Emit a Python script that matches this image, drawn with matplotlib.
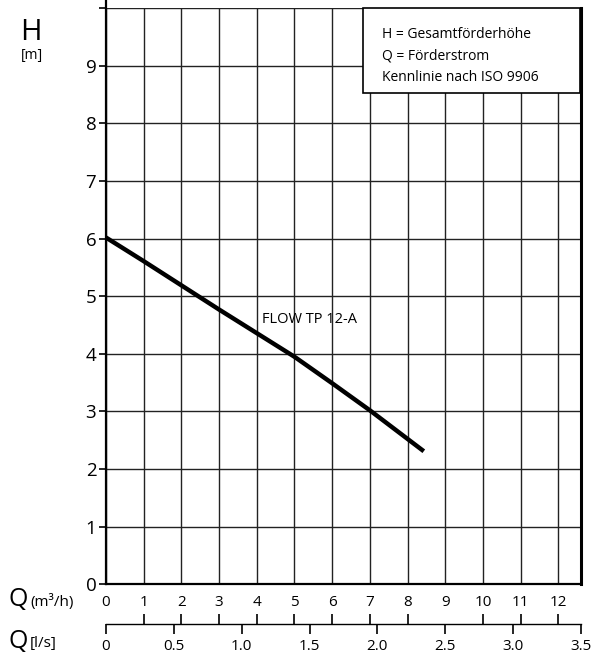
import matplotlib.pyplot as plt
from matplotlib.patches import Rectangle

plt.rcParams['font.family'] = ['Open Sans', 'DejaVu Sans']

# pump curve FLOW TP 12-A, Q in m3/h, H in m
q_m3h = [0, 1, 2, 3, 4, 5, 6, 7, 8.43]
h_m = [6.02, 5.61, 5.19, 4.77, 4.36, 3.95, 3.49, 3.02, 2.31]

q_ticks = list(range(0, 13))
h_ticks = list(range(0, 11))
h_labels = [str(v) for v in range(0, 10)] + [""]
ls_ticks = [0, 0.5, 1.0, 1.5, 2.0, 2.5, 3.0, 3.5]
ls_labels = ["0", "0.5", "1.0", "1.5", "2.0", "2.5", "3.0", "3.5"]
legend_lines = ["H = Gesamtförderhöhe", "Q = Förderstrom", "Kennlinie nach ISO 9906"]
curve_name = "FLOW TP 12-A"

W, H = 596, 658
fig = plt.figure(figsize=(W / 100, H / 100), dpi=100)

x0, x1 = 106, 581
y0, y1 = 584.3, 8.3
ax = fig.add_axes([x0 / W, 1 - y0 / H, (x1 - x0) / W, (y0 - y1) / H])
ax.set_xlim(0, 12.6)
ax.set_ylim(0, 10)

ax.plot(q_m3h, h_m, color="black", lw=3.2, solid_capstyle="butt", zorder=3)
ax.text(4.13, 4.6, curve_name, fontsize=10.5, va="center", ha="left")

ax.set_xticks(q_ticks)
ax.set_yticks(h_ticks)
ax.set_yticklabels(h_labels, fontsize=13.5)
ax.tick_params(axis="y", direction="out", length=5, width=1.2, pad=2)
ax.tick_params(axis="x", length=0, labelbottom=False)
ax.grid(True, color="#222222", lw=1.0)
ax.spines["top"].set_visible(False)
ax.spines["left"].set_linewidth(1.6)
ax.spines["bottom"].set_linewidth(1.6)
ax.spines["right"].set_linewidth(2.2)
ax.spines["left"].set_bounds(0, 10.14)

# second scale below: Q in l/s
ya, yb = 624, 611
ax2 = fig.add_axes([x0 / W, 1 - ya / H, (x1 - x0) / W, (ya - yb) / H])
ax2.set_xlim(0, 12.6)
ax2.set_yticks([])
ax2.patch.set_visible(False)
for s in ["left", "right", "top"]:
    ax2.spines[s].set_visible(False)
ax2.spines["bottom"].set_linewidth(1.0)
ax2.set_xticks([v * 3.6 for v in ls_ticks])
ax2.set_xticklabels(ls_labels, fontsize=11)
ax2.set_xticks(q_ticks, minor=True)
ax2.tick_params(axis="x", which="major", direction="out", length=7, width=1.2, pad=4)
ax2.tick_params(axis="x", which="minor", direction="in", length=7, width=1.2,
                bottom=True, top=False, labelbottom=False)

ax3 = ax2.twiny()
ax3.set_xlim(0, 12.6)
for s in ax3.spines.values():
    s.set_visible(False)
ax3.set_xticks(q_ticks)
ax3.set_xticklabels([str(v) for v in q_ticks], fontsize=11)
ax3.tick_params(axis="x", length=0, pad=1)

# axis titles
fig.text(31 / W, 1 - 33 / H, "H", fontsize=21, ha="center", va="center")
fig.text(32 / W, 1 - 56 / H, "[m]", fontsize=10, ha="center", va="center")
fig.text(8 / W, 1 - 600 / H, "Q", fontsize=18, ha="left", va="center")
fig.text(30 / W, 1 - 602 / H, "(m³/h)", fontsize=11, ha="left", va="center")
fig.text(8 / W, 1 - 642 / H, "Q", fontsize=18, ha="left", va="center")
fig.text(30 / W, 1 - 644 / H, "[l/s]", fontsize=11, ha="left", va="center")

# legend box
bx0, bx1, by0, by1 = 363, 580, 8.3, 93
fig.patches.append(Rectangle((bx0 / W, 1 - by1 / H), (bx1 - bx0) / W, (by1 - by0) / H,
                             transform=fig.transFigure, facecolor="white",
                             edgecolor="black", lw=1.2, zorder=5))
for i, line in enumerate(legend_lines):
    fig.text(382 / W, 1 - (34.5 + 21.5 * i) / H, line, fontsize=10,
             ha="left", va="center", zorder=6)

fig.savefig("out.png", dpi=100)
